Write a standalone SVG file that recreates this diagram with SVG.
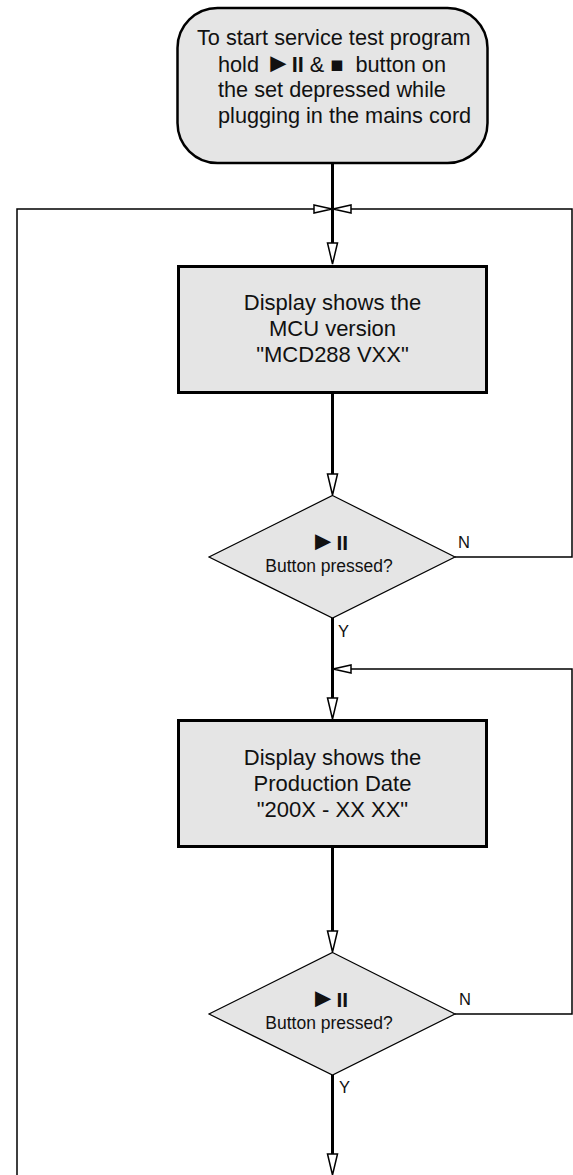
<svg xmlns="http://www.w3.org/2000/svg" width="573" height="1175" viewBox="0 0 573 1175">
<style>
  .shape { fill: #e5e5e5; stroke: #000; }
  .thick { stroke-width: 3; }
  .main { fill: none; stroke: #000; stroke-width: 3; }
  .loop { fill: none; stroke: #000; stroke-width: 1.5; }
  .t { font-family: "Liberation Sans", Arial, sans-serif; fill: #111; }
  .start { font-size: 21.7px; }
  .big { font-size: 22px; }
  .small { font-size: 17.5px; }
  .sym { font-size: 21px; font-weight: bold; }
  .tri { font-size: 27px; }
  .lbl { font-size: 16.5px; }
  .c { text-anchor: middle; }
  .b { font-weight: bold; }
</style>
<defs>
  <marker id="arrowV" markerUnits="userSpaceOnUse" markerWidth="24" markerHeight="14" refX="0" refY="6" orient="auto" overflow="visible">
    <path d="M0,1 L21,6 L0,11 Z" fill="#fff" stroke="#000" stroke-width="1.5"/>
  </marker>
  <marker id="arrowH" markerUnits="userSpaceOnUse" markerWidth="20" markerHeight="12" refX="0" refY="5" orient="auto" overflow="visible">
    <path d="M0,1 L18,5 L0,9 Z" fill="#fff" stroke="#000" stroke-width="1.5"/>
  </marker>
</defs>

<g id="connectors">
  <path class="main" d="M332.5,164 V243" marker-end="url(#arrowV)"/>
  <path class="main" d="M332.5,394 V474" marker-end="url(#arrowV)"/>
  <path class="main" d="M332.5,618 V698" marker-end="url(#arrowV)"/>
  <path class="main" d="M332.5,848 V931" marker-end="url(#arrowV)"/>
  <path class="main" d="M332.5,1075 V1154" marker-end="url(#arrowV)"/>
  <path class="loop" d="M455,557 H572 V209 H351" marker-end="url(#arrowH)"/>
  <path class="loop" d="M17,1175 V209 H314" marker-end="url(#arrowH)"/>
  <path class="loop" d="M455,1014 H572 V669 H351" marker-end="url(#arrowH)"/>
  <text class="t lbl" x="458" y="548">N</text>
  <text class="t lbl" x="338" y="637">Y</text>
  <text class="t lbl" x="459" y="1005">N</text>
  <text class="t lbl" x="339" y="1093">Y</text>
</g>

<g id="start">
  <rect class="shape" x="177.5" y="8" width="310" height="155" rx="40" ry="40" stroke-width="2.5"/>
  <text class="t start" x="197" y="45">To start service test program</text>
  <text class="t start" x="218" y="72" style="white-space:pre">hold <tspan class="tri">►</tspan><tspan class="b">II</tspan> &amp; ■  button on</text>
  <text class="t start" x="218" y="97">the set depressed while</text>
  <text class="t start" x="218" y="123">plugging in the mains cord</text>
</g>

<g id="box1">
  <rect class="shape thick" x="178.5" y="266.5" width="308" height="126"/>
  <text class="t big c" x="332.5" y="310">Display shows the</text>
  <text class="t big c" x="332.5" y="336">MCU version</text>
  <text class="t big c" x="332.5" y="362">"MCD288 VXX"</text>
</g>

<g id="decision1">
  <polygon class="shape" stroke-width="1.2" points="332.5,495.5 455,557 332.5,618 209,557"/>
  <text class="t sym c" x="329" y="550"><tspan class="tri">►</tspan>II</text>
  <text class="t small c" x="329" y="572">Button pressed?</text>
</g>

<g id="box2">
  <rect class="shape thick" x="178.5" y="720.5" width="308" height="126"/>
  <text class="t big c" x="332.5" y="765">Display shows the</text>
  <text class="t big c" x="332.5" y="791">Production Date</text>
  <text class="t big c" x="332.5" y="817">"200X - XX XX"</text>
</g>

<g id="decision2">
  <polygon class="shape" stroke-width="1.2" points="332.5,952.5 455,1014 332.5,1075 209,1014"/>
  <text class="t sym c" x="329" y="1007"><tspan class="tri">►</tspan>II</text>
  <text class="t small c" x="329" y="1029">Button pressed?</text>
</g>
</svg>
